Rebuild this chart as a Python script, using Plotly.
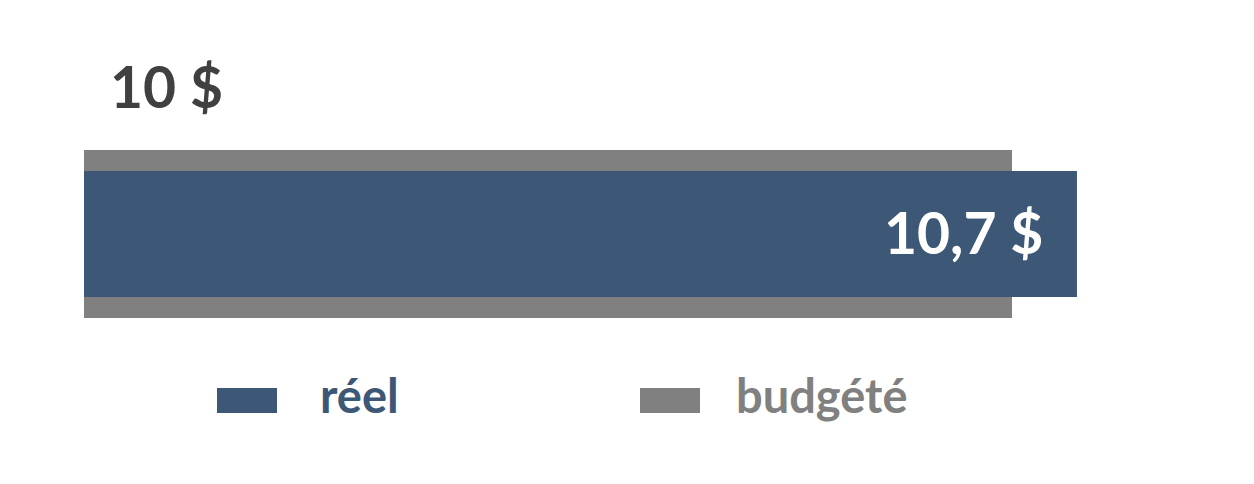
import plotly.graph_objects as go

# Data
series = ["budgété", "réel"]
values = [10, 10.7]
value_labels = ["10 $", "10,7 $"]
colors = ["#808080", "#3D5876"]
bar_widths = [168, 126]

W, H = 1254, 484
OFF = 8  # page body margin
L = 84 - OFF
CY = 234 - OFF  # bar centre in figure pixels
px_per_unit = 92.8
plot_w = W - L
x_max = plot_w / px_per_unit


def paper_x(px):
    return (px - OFF - L) / plot_w


def paper_y(py):
    return 1 - (py - OFF) / H


fig = go.Figure()

for name, val, col, bw in zip(series, values, colors, bar_widths):
    fig.add_trace(go.Bar(
        x=[val],
        y=[0],
        orientation="h",
        width=bw,
        name=name,
        marker=dict(color=col, line=dict(width=0)),
        showlegend=False,
        hoverinfo="skip",
    ))

font_family = "Lato, 'Noto Sans', sans-serif"

# value labels
fig.add_annotation(
    x=0, y=148, xref="x", yref="y",
    text="<b>%s</b>" % value_labels[0],
    showarrow=False, xanchor="left", yanchor="middle", xshift=24,
    font=dict(family=font_family, size=57, color="#404040"),
)
fig.add_annotation(
    x=values[1], y=2, xref="x", yref="y",
    text="<b>%s</b>" % value_labels[1],
    showarrow=False, xanchor="right", yanchor="middle", xshift=-32,
    font=dict(family=font_family, size=57, color="white"),
)

# manual legend
legend_items = [("réel", colors[1], 217, 318), ("budgété", colors[0], 640, 734)]
for name, col, rx, tx in legend_items:
    fig.add_shape(
        type="rect", xref="paper", yref="paper",
        x0=paper_x(rx), x1=paper_x(rx + 60),
        y0=paper_y(413), y1=paper_y(388),
        fillcolor=col, line=dict(width=0),
    )
    fig.add_annotation(
        x=paper_x(tx), y=paper_y(395), xref="paper", yref="paper",
        text="<b>%s</b>" % name, showarrow=False,
        xanchor="left", yanchor="middle",
        font=dict(family=font_family, size=47, color=col),
    )

fig.update_layout(
    width=W, height=H,
    margin=dict(l=L, r=0, t=0, b=0),
    barmode="overlay",
    plot_bgcolor="white",
    paper_bgcolor="white",
    xaxis=dict(range=[0, x_max], visible=False, fixedrange=True),
    yaxis=dict(range=[-(H - CY), CY], visible=False, fixedrange=True),
)

fig.write_html("out.html", config={"displayModeBar": False})
